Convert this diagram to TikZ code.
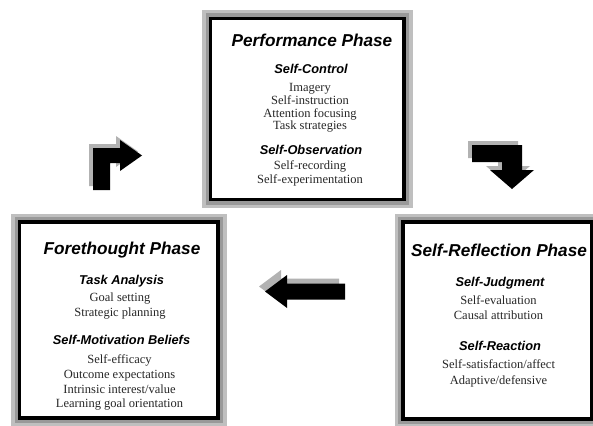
\documentclass[tikz,border=0pt]{standalone}
\usepackage{fontspec}
\setmainfont{Liberation Serif}
\setsansfont{Liberation Sans}
\begin{document}
\begin{tikzpicture}[x=1pt,y=-1pt,
  phasebox/.style={rectangle, draw=black, line width=3.5pt, fill=white, inner sep=0pt,
    preaction={draw=gray!50, line width=17pt},
    preaction={draw=gray!80, line width=10pt}},
  titletext/.style={font=\fontsize{17.2}{20}\selectfont\sffamily\bfseries\itshape, anchor=base, inner sep=0pt},
  subhead/.style={font=\fontsize{12.8}{15}\selectfont\sffamily\bfseries\itshape, anchor=base, inner sep=0pt},
  itemtext/.style={font=\fontsize{12.5}{14}\selectfont, anchor=base, inner sep=0pt, text=black!85},
  arrowbody/.style={fill=black},
  arrowshade/.style={fill=gray!60}]
\useasboundingbox (0,0) rectangle (593,425);
\fill[white] (0,0) rectangle (593,425);
\clip (0,0) rectangle (593,425);

% phase boxes
\node[phasebox, minimum width=193.5pt, minimum height=181pt] (perf) at (307.25,109) {};
\node[phasebox, minimum width=198.5pt, minimum height=196pt] (fore) at (118.75,320) {};
\node[phasebox, minimum width=189pt, minimum height=197pt] (refl) at (497.5,320.5) {};

% Performance phase text
\node[titletext] (pt) at (312,46.7) {Performance Phase};
\node[subhead] (pc) at (311,74) {Self-Control};
\node[itemtext] (p1) at (310,91.7) {Imagery};
\node[itemtext] (p2) at (310,104.3) {Self-instruction};
\node[itemtext] (p3) at (310,117.3) {Attention focusing};
\node[itemtext] (p4) at (310,129.3) {Task strategies};
\node[subhead] (po) at (311,154) {Self-Observation};
\node[itemtext] (p5) at (310,169.3) {Self-recording};
\node[itemtext] (p6) at (310,183.3) {Self-experimentation};

% Forethought phase text
\node[titletext] (ft) at (122,254.3) {Forethought Phase};
\node[subhead] (fa) at (121.5,284.3) {Task Analysis};
\node[itemtext] (f1) at (120,301.7) {Goal setting};
\node[itemtext] (f2) at (120,316) {Strategic planning};
\node[subhead] (fm) at (121.5,344) {Self-Motivation Beliefs};
\node[itemtext] (f3) at (119.5,363.3) {Self-efficacy};
\node[itemtext] (f4) at (119.5,378.3) {Outcome expectations};
\node[itemtext] (f5) at (119.5,393.3) {Intrinsic interest/value};
\node[itemtext] (f6) at (119.5,407.7) {Learning goal orientation};

% Self-Reflection phase text
\node[titletext] (rt) at (499,256) {Self-Reflection Phase};
\node[subhead] (rj) at (500,286.7) {Self-Judgment};
\node[itemtext] (r1) at (498.5,304) {Self-evaluation};
\node[itemtext] (r2) at (498.5,319.3) {Causal attribution};
\node[subhead] (rr) at (500,350) {Self-Reaction};
\node[itemtext] (r3) at (498.5,368.7) {Self-satisfaction/affect};
\node[itemtext] (r4) at (498.5,384) {Adaptive/defensive};

% block arrow: forethought -> performance (up then right)
\fill[arrowshade, shift={(-4,-4)}] (93,190) -- (93,148) -- (120,148) -- (120,140) -- (142,155.5)
  -- (120,171) -- (120,163) -- (110,163) -- (110,190) -- cycle;
\fill[arrowbody] (93,190) -- (93,148) -- (120,148) -- (120,140) -- (142,155.5)
  -- (120,171) -- (120,163) -- (110,163) -- (110,190) -- cycle;

% block arrow: performance -> self-reflection (right then down)
\fill[arrowshade, shift={(-4,-4)}] (472,145) -- (522,145) -- (522,170) -- (534,170) -- (512,189)
  -- (490,170) -- (502,170) -- (502,162) -- (472,162) -- cycle;
\fill[arrowbody] (472,145) -- (522,145) -- (522,170) -- (534,170) -- (512,189)
  -- (490,170) -- (502,170) -- (502,162) -- (472,162) -- cycle;

% block arrow: self-reflection -> forethought (left)
\fill[arrowshade, shift={(-6,-5)}] (265,291.5) -- (287,275) -- (287,283.5) -- (345,283.5)
  -- (345,299.5) -- (287,299.5) -- (287,308) -- cycle;
\fill[arrowbody] (265,291.5) -- (287,275) -- (287,283.5) -- (345,283.5)
  -- (345,299.5) -- (287,299.5) -- (287,308) -- cycle;
\end{tikzpicture}
\end{document}
